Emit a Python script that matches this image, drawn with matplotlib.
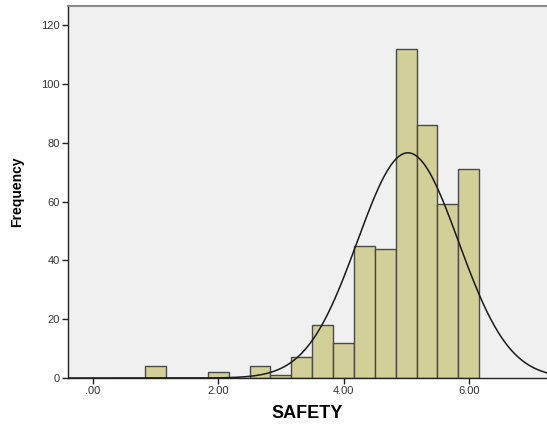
import numpy as np
import matplotlib
matplotlib.use("Agg")
import matplotlib.pyplot as plt

# Data
bin_centers = [1.0, 2.0, 2.6667, 3.0, 3.3333, 3.6667, 4.0, 4.3333, 4.6667, 5.0, 5.3333, 5.6667, 6.0]
counts = [4, 2, 4, 1, 7, 18, 12, 45, 44, 112, 86, 59, 71]
bin_width = 1.0 / 3.0
x_ticks = [0, 2, 4, 6]
x_tick_labels = [".00", "2.00", "4.00", "6.00"]
y_ticks = [0, 20, 40, 60, 80, 100, 120]

plt.rcParams['font.family'] = ['Liberation Sans', 'DejaVu Sans']

fig = plt.figure(figsize=(5.47, 4.25), dpi=100)
ax = fig.add_axes([68/547, 47/425, 1 - 68/547, (378 - 6)/425])
ax.set_facecolor('#F0F0F0')

ax.bar(bin_centers, counts, width=bin_width, color='#D3CF98', edgecolor='#4a4a4a',
       linewidth=1.0, zorder=2)

# Normal curve fitted to the data
c = np.array(bin_centers); n = np.array(counts)
N = n.sum()
mu = (c * n).sum() / N
sd = np.sqrt(((c - mu) ** 2 * n).sum() / (N - 1))
xs = np.linspace(-0.4, 7.25, 500)
ys = N * bin_width / (sd * np.sqrt(2 * np.pi)) * np.exp(-0.5 * ((xs - mu) / sd) ** 2)
ax.plot(xs, ys, color='#1a1a1a', linewidth=1.1, zorder=3)

ax.set_xlim(-0.4, 7.25)
ax.set_ylim(0, 126.5)
ax.set_xticks(x_ticks)
ax.set_xticklabels(x_tick_labels)
ax.set_yticks(y_ticks)

for s in ['left', 'bottom']:
    ax.spines[s].set_color('#222222')
    ax.spines[s].set_linewidth(1.0)
ax.spines['top'].set_color('#8a8a8a')
ax.spines['top'].set_linewidth(1.5)
ax.spines['right'].set_visible(False)

ax.tick_params(axis='both', direction='out', length=4, width=1, color='#222222',
               labelsize=8, labelcolor='#333333', pad=2)

ax.set_xlabel('SAFETY', fontsize=13, fontweight='bold', labelpad=6)
ax.set_ylabel('Frequency', fontsize=10, fontweight='bold', labelpad=12)

fig.savefig('out.png', dpi=100)
